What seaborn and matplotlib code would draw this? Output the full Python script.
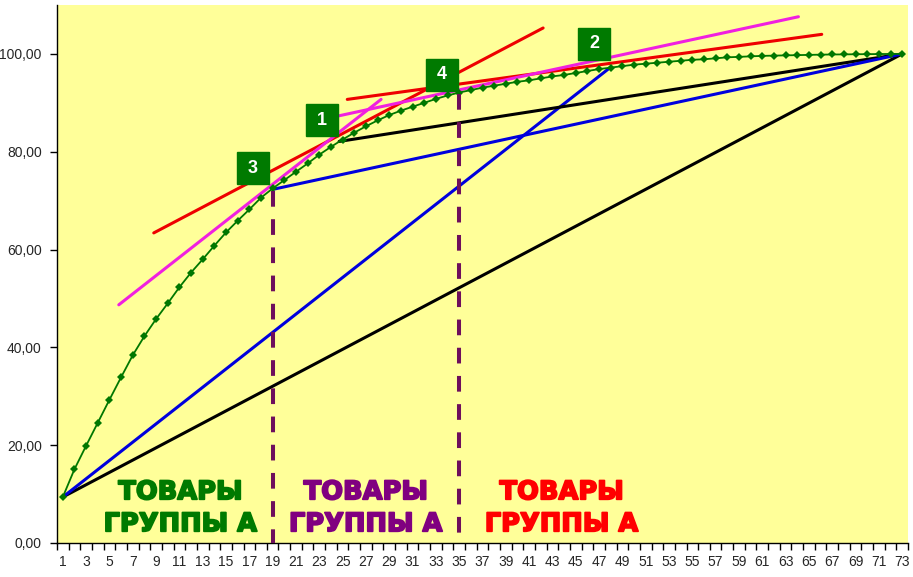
import numpy as np
import matplotlib
matplotlib.use("Agg")
import matplotlib.pyplot as plt
import matplotlib.patheffects as pe
import seaborn as sns
from matplotlib.ticker import FixedLocator, FuncFormatter

# cumulative share, %, for 73 goods
positions = list(range(1, 74))
cum_share = [9.4, 15.1, 19.9, 24.6, 29.3, 33.9, 38.4, 42.3, 45.8, 49.0,
             52.3, 55.3, 58.0, 60.8, 63.5, 65.9, 68.2, 70.6, 72.5, 74.2,
             75.9, 77.6, 79.4, 81.0, 82.5, 83.9, 85.2, 86.4, 87.5, 88.4,
             89.2, 90.0, 90.8, 91.5, 92.1, 92.6, 93.1, 93.5, 93.9, 94.3,
             94.6, 95.0, 95.4, 95.7, 96.1, 96.5, 96.9, 97.2, 97.5, 97.8,
             98.0, 98.2, 98.4, 98.6, 98.8, 98.9, 99.1, 99.3, 99.4, 99.5,
             99.6, 99.65, 99.7, 99.75, 99.8, 99.85, 99.88, 99.9, 99.93, 99.95,
             99.97, 99.99, 100.0]

# helper straight lines (x pair, y pair)
black_diag_x, black_diag_y = [1, 73], [9.4, 100.0]
black_chord_x, black_chord_y = [24.7, 73], [82.1, 100.0]
blue_chord1_x, blue_chord1_y = [1, 48], [9.4, 97.3]
blue_chord2_x, blue_chord2_y = [19, 73], [72.3, 100.0]
red_tan1_x, red_tan1_y = [8.8, 42.2], [63.4, 105.3]
red_tan2_x, red_tan2_y = [25.4, 66.1], [90.7, 104.0]
pink_tan1_x, pink_tan1_y = [5.8, 28.3], [48.7, 90.7]
pink_tan2_x, pink_tan2_y = [24.6, 64.1], [87.3, 107.6]

# group borders
borders = [19, 35]
border_tops = [72.0, 91.8]

group_text = "ТОВАРЫ\nГРУППЫ А"
marks = ["1", "2", "3", "4"]

sns.set_style("ticks")
plt.rcParams["font.family"] = ["Liberation Sans", "DejaVu Sans"]
plt.rcParams["font.size"] = 10

fig = plt.figure(figsize=(9.13, 5.77), dpi=100)
ax = fig.add_axes([57 / 913, 34 / 577, 851 / 913, 538 / 577])
ax.set_facecolor("#ffff99")

lw = 2.2
sns.lineplot(x=black_diag_x, y=black_diag_y, color="black", lw=lw, ax=ax)
sns.lineplot(x=blue_chord1_x, y=blue_chord1_y, color="#0000dd", lw=lw, ax=ax)
sns.lineplot(x=black_chord_x, y=black_chord_y, color="black", lw=lw, ax=ax)
sns.lineplot(x=blue_chord2_x, y=blue_chord2_y, color="#0000dd", lw=lw, ax=ax)
sns.lineplot(x=red_tan1_x, y=red_tan1_y, color="#ee0000", lw=lw, ax=ax)
sns.lineplot(x=red_tan2_x, y=red_tan2_y, color="#ee0000", lw=lw, ax=ax)
sns.lineplot(x=pink_tan1_x, y=pink_tan1_y, color="#f020e0", lw=lw, ax=ax)
sns.lineplot(x=pink_tan2_x, y=pink_tan2_y, color="#f020e0", lw=lw, ax=ax)

sns.lineplot(x=positions, y=cum_share, color="#007700", lw=1.3,
             marker="D", markersize=4, markeredgewidth=0, ax=ax, zorder=5)

for bx, top in zip(borders, border_tops):
    ax.plot([bx, bx], [top, 0], color="#6e0e5c", lw=2.9,
            dashes=(3.9, 3.1), solid_capstyle="butt", zorder=6)

# numbered markers
mark_xy = [(23.2, 86.4), (46.6, 102.1), (17.3, 76.6), (33.5, 95.7)]
for m, (mx, my) in zip(marks, mark_xy):
    ax.plot(mx, my, marker="s", markersize=22.5, color="#007a00", zorder=8)
    ax.text(mx, my, m, color="white", fontsize=13, fontweight="bold",
            ha="center", va="center", zorder=9)

for tx, col in [(11.1, "#007a00"), (27.0, "#800080"), (43.8, "#ff0000")]:
    ax.text(tx, 7.1, group_text, color=col, fontsize=18.5, fontweight="bold",
            family="DejaVu Sans", ha="center", va="center",
            multialignment="center", linespacing=1.3, zorder=7,
            path_effects=[pe.withStroke(linewidth=1.3, foreground=col)])

ax.set_xlim(0.5, 73.5)
ax.set_ylim(0, 110)
ax.xaxis.set_major_locator(FixedLocator(np.arange(0.5, 74, 1)))
ax.xaxis.set_major_formatter(FuncFormatter(lambda v, p: ""))
ax.xaxis.set_minor_locator(FixedLocator(positions[::2]))
ax.xaxis.set_minor_formatter(FuncFormatter(lambda v, p: f"{int(round(v))}"))
ax.tick_params(axis="x", which="major", length=5, width=1, color="black")
ax.tick_params(axis="x", which="minor", length=0, labelsize=10, pad=9)
ax.set_yticks([0, 20, 40, 60, 80, 100])
ax.yaxis.set_major_formatter(FuncFormatter(lambda v, p: f"{v:.2f}".replace(".", ",")))
ax.tick_params(axis="y", length=5, width=1, labelsize=10, pad=6, color="black")
for s in ["top", "right"]:
    ax.spines[s].set_visible(False)
for s in ["left", "bottom"]:
    ax.spines[s].set_color("black")
    ax.spines[s].set_linewidth(1)
ax.set_xlabel("")
ax.set_ylabel("")

fig.savefig("out.png", dpi=100)
